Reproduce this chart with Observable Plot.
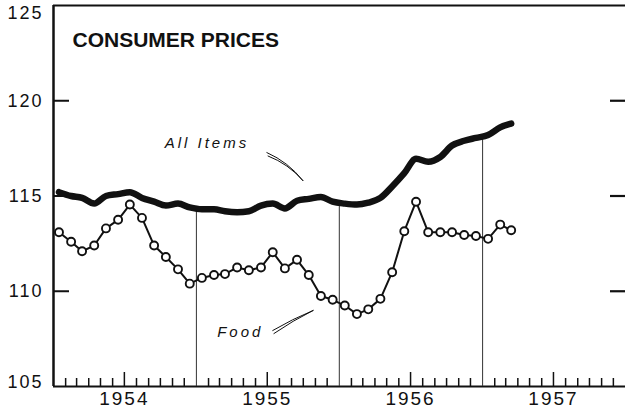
<!DOCTYPE html>
<html>
<head>
<meta charset="utf-8">
<script src="https://cdn.jsdelivr.net/npm/d3@7"></script>
<script src="https://cdn.jsdelivr.net/npm/@observablehq/plot@0.6"></script>
<style>
  html, body { margin: 0; padding: 0; background: white; }
  #chart svg { display: block; }
</style>
</head>
<body>
<div id="chart"></div>
<script>
// ---- Data (monthly, Jan 1954 – Mar 1957) ----
const startYear = 1954;
const allItems = [
  115.2, 115.0, 114.9, 114.6, 115.0, 115.1, 115.2, 114.9, 114.7, 114.5, 114.6, 114.4,
  114.3, 114.3, 114.2, 114.15, 114.2, 114.5, 114.6, 114.35, 114.75, 114.85, 114.95, 114.7,
  114.6, 114.55, 114.65, 114.9, 115.5, 116.2, 116.95, 116.8, 117.05, 117.65, 117.9, 118.05,
  118.2, 118.6, 118.8
];
const food = [
  113.1, 112.6, 112.1, 112.4, 113.3, 113.75, 114.55, 113.85, 112.4, 111.8, 111.15, 110.4,
  110.7, 110.85, 110.9, 111.25, 111.1, 111.25, 112.05, 111.2, 111.65, 110.85, 109.75, 109.55,
  109.25, 108.8, 109.05, 109.6, 111.0, 113.15, 114.7, 113.1, 113.1, 113.1, 112.95, 112.9,
  112.75, 113.5, 113.2
];
const yearLabels = ["1954", "1955", "1956", "1957"];
const yTickLabels = [105, 110, 115, 120, 125];
const yInnerTicks = [110, 115, 120];
const yearBreaks = ["1955", "1956", "1957"];

// annotation labels and leaders
const noteText = ["All Items", "Food"];
const noteDate = ["1954-10-12", "1955-02-23"];
const noteValue = [117.76, 107.83];
const allLeaderStartDate = ["1955-06-30", "1955-07-03"];
const allLeaderStartValue = [117.28, 117.10];
const allLeaderEnd = ["1955-09-30", 115.81];
const foodLeaderStartDate = ["1955-07-15", "1955-07-18"];
const foodLeaderStartValue = [107.94, 107.78];
const foodLeaderEnd = ["1955-10-26", 108.99];

// ---- Build tables ----
const monthDate = i => new Date(Date.UTC(startYear, i, 15));
const allData = allItems.map((v, i) => ({date: monthDate(i), value: v}));
const foodData = food.map((v, i) => ({date: monthDate(i), value: v}));
const notes = noteText.map((t, i) => ({text: t, date: new Date(noteDate[i]), value: noteValue[i]}));
const allLeaders = allLeaderStartDate.map((d, i) => ({
  x1: new Date(d), y1: allLeaderStartValue[i], x2: new Date(allLeaderEnd[0]), y2: allLeaderEnd[1]
}));
const foodLeaders = foodLeaderStartDate.map((d, i) => ({
  x1: new Date(d), y1: foodLeaderStartValue[i], x2: new Date(foodLeaderEnd[0]), y2: foodLeaderEnd[1]
}));
const breaks = yearBreaks.map(y => {
  const d = new Date(Date.UTC(+y, 0, 1));
  const k = (+y - startYear) * 12;
  return {date: d, top: (allItems[k - 1] + allItems[k]) / 2};
});
const monthTicks = d3.utcMonths(new Date(Date.UTC(1954, 1, 1)), new Date(Date.UTC(1958, 0, 1)))
  .filter(d => d.getUTCMonth() !== 0);
const smallTicks = monthTicks.filter(d => d.getUTCMonth() !== 6);
const bigTicks = monthTicks.filter(d => d.getUTCMonth() === 6);
const yearLabelData = yearLabels.map(y => ({label: y, date: new Date(Date.UTC(+y, 6, 1))}));

const INK = "#111";
const plotH = 416 - 5 - 30;

const chart = Plot.plot({
  width: 625,
  height: 416,
  marginLeft: 53,
  marginRight: 0,
  marginTop: 5,
  marginBottom: 30,
  x: {type: "utc", domain: [new Date(Date.UTC(1954, 0, 1)), new Date(Date.UTC(1958, 0, 1))], axis: null},
  y: {domain: [105, 125], axis: null},
  style: {background: "white", fontFamily: "'Liberation Sans', Arial, sans-serif", color: INK, overflow: "visible"},
  marks: [
    // frame: left, top, bottom
    Plot.ruleX([new Date(Date.UTC(1954, 0, 1))], {stroke: INK, strokeWidth: 2.5}),
    Plot.ruleY([125], {stroke: INK, strokeWidth: 2}),
    Plot.ruleY([105], {stroke: INK, strokeWidth: 2}),
    // inner y ticks, left and right
    Plot.ruleY(yInnerTicks, {stroke: INK, strokeWidth: 2, insetRight: 572 - 16}),
    Plot.ruleY(yInnerTicks, {stroke: INK, strokeWidth: 2.2, insetLeft: 572 - 15}),
    // month ticks
    Plot.ruleX(smallTicks, {stroke: INK, strokeWidth: 1.5, insetTop: plotH - 8}),
    Plot.ruleX(bigTicks, {stroke: INK, strokeWidth: 1.5, insetTop: plotH - 14}),
    // year break rules
    Plot.ruleX(breaks, {x: "date", y1: 105, y2: "top", stroke: "#333", strokeWidth: 1}),
    // y labels
    Plot.text(yTickLabels.filter(d => d > 105 && d < 125), {y: d => d, frameAnchor: "left", dx: -10, textAnchor: "end", fontSize: 18, fill: INK}),
    Plot.text([125], {y: d => d, frameAnchor: "left", dx: -10, dy: 8, textAnchor: "end", fontSize: 18, fill: INK}),
    Plot.text([105], {y: d => d, frameAnchor: "left", dx: -10, dy: -4, textAnchor: "end", fontSize: 18, fill: INK}),
    // x labels
    Plot.text(yearLabelData, {x: "date", text: "label", frameAnchor: "bottom", dy: 18, fontSize: 19, fill: INK}),
    // title
    Plot.text(["CONSUMER PRICES"], {frameAnchor: "top-left", dx: 19, dy: 35, textAnchor: "start", lineAnchor: "middle", fontSize: 21, fontWeight: "bold", fill: INK}),
    // data: All Items
    Plot.line(allData, {x: "date", y: "value", stroke: INK, strokeWidth: 6.5, curve: "monotone-x", strokeLinecap: "round", strokeLinejoin: "round"}),
    // data: Food
    Plot.line(foodData, {x: "date", y: "value", stroke: INK, strokeWidth: 2}),
    Plot.dot(foodData, {x: "date", y: "value", r: 4, fill: "white", stroke: INK, strokeWidth: 1.9}),
    // annotations
    Plot.text(notes, {x: "date", y: "value", text: "text", textAnchor: "start", fontSize: 15, fontStyle: "italic", fill: INK}),
    Plot.arrow(allLeaders, {x1: "x1", y1: "y1", x2: "x2", y2: "y2", bend: 14, headLength: 0, stroke: INK, strokeWidth: 1}),
    Plot.arrow(foodLeaders, {x1: "x1", y1: "y1", x2: "x2", y2: "y2", bend: 4, headLength: 0, stroke: INK, strokeWidth: 1})
  ]
});
document.getElementById("chart").appendChild(chart);

// letter spacing to match the wide-set lettering of the original
const spacing = {"All Items": 3, "Food": 3, "CONSUMER PRICES": 0};
d3.select(chart).selectAll("text").each(function() {
  const t = this.textContent;
  let ls = 0;
  if (t in spacing) ls = spacing[t];
  else if (/^\d{4}$/.test(t)) ls = 2;
  else if (/^\d{3}$/.test(t)) ls = 2;
  if (ls) this.setAttribute("letter-spacing", ls);
});
</script>
</body>
</html>
